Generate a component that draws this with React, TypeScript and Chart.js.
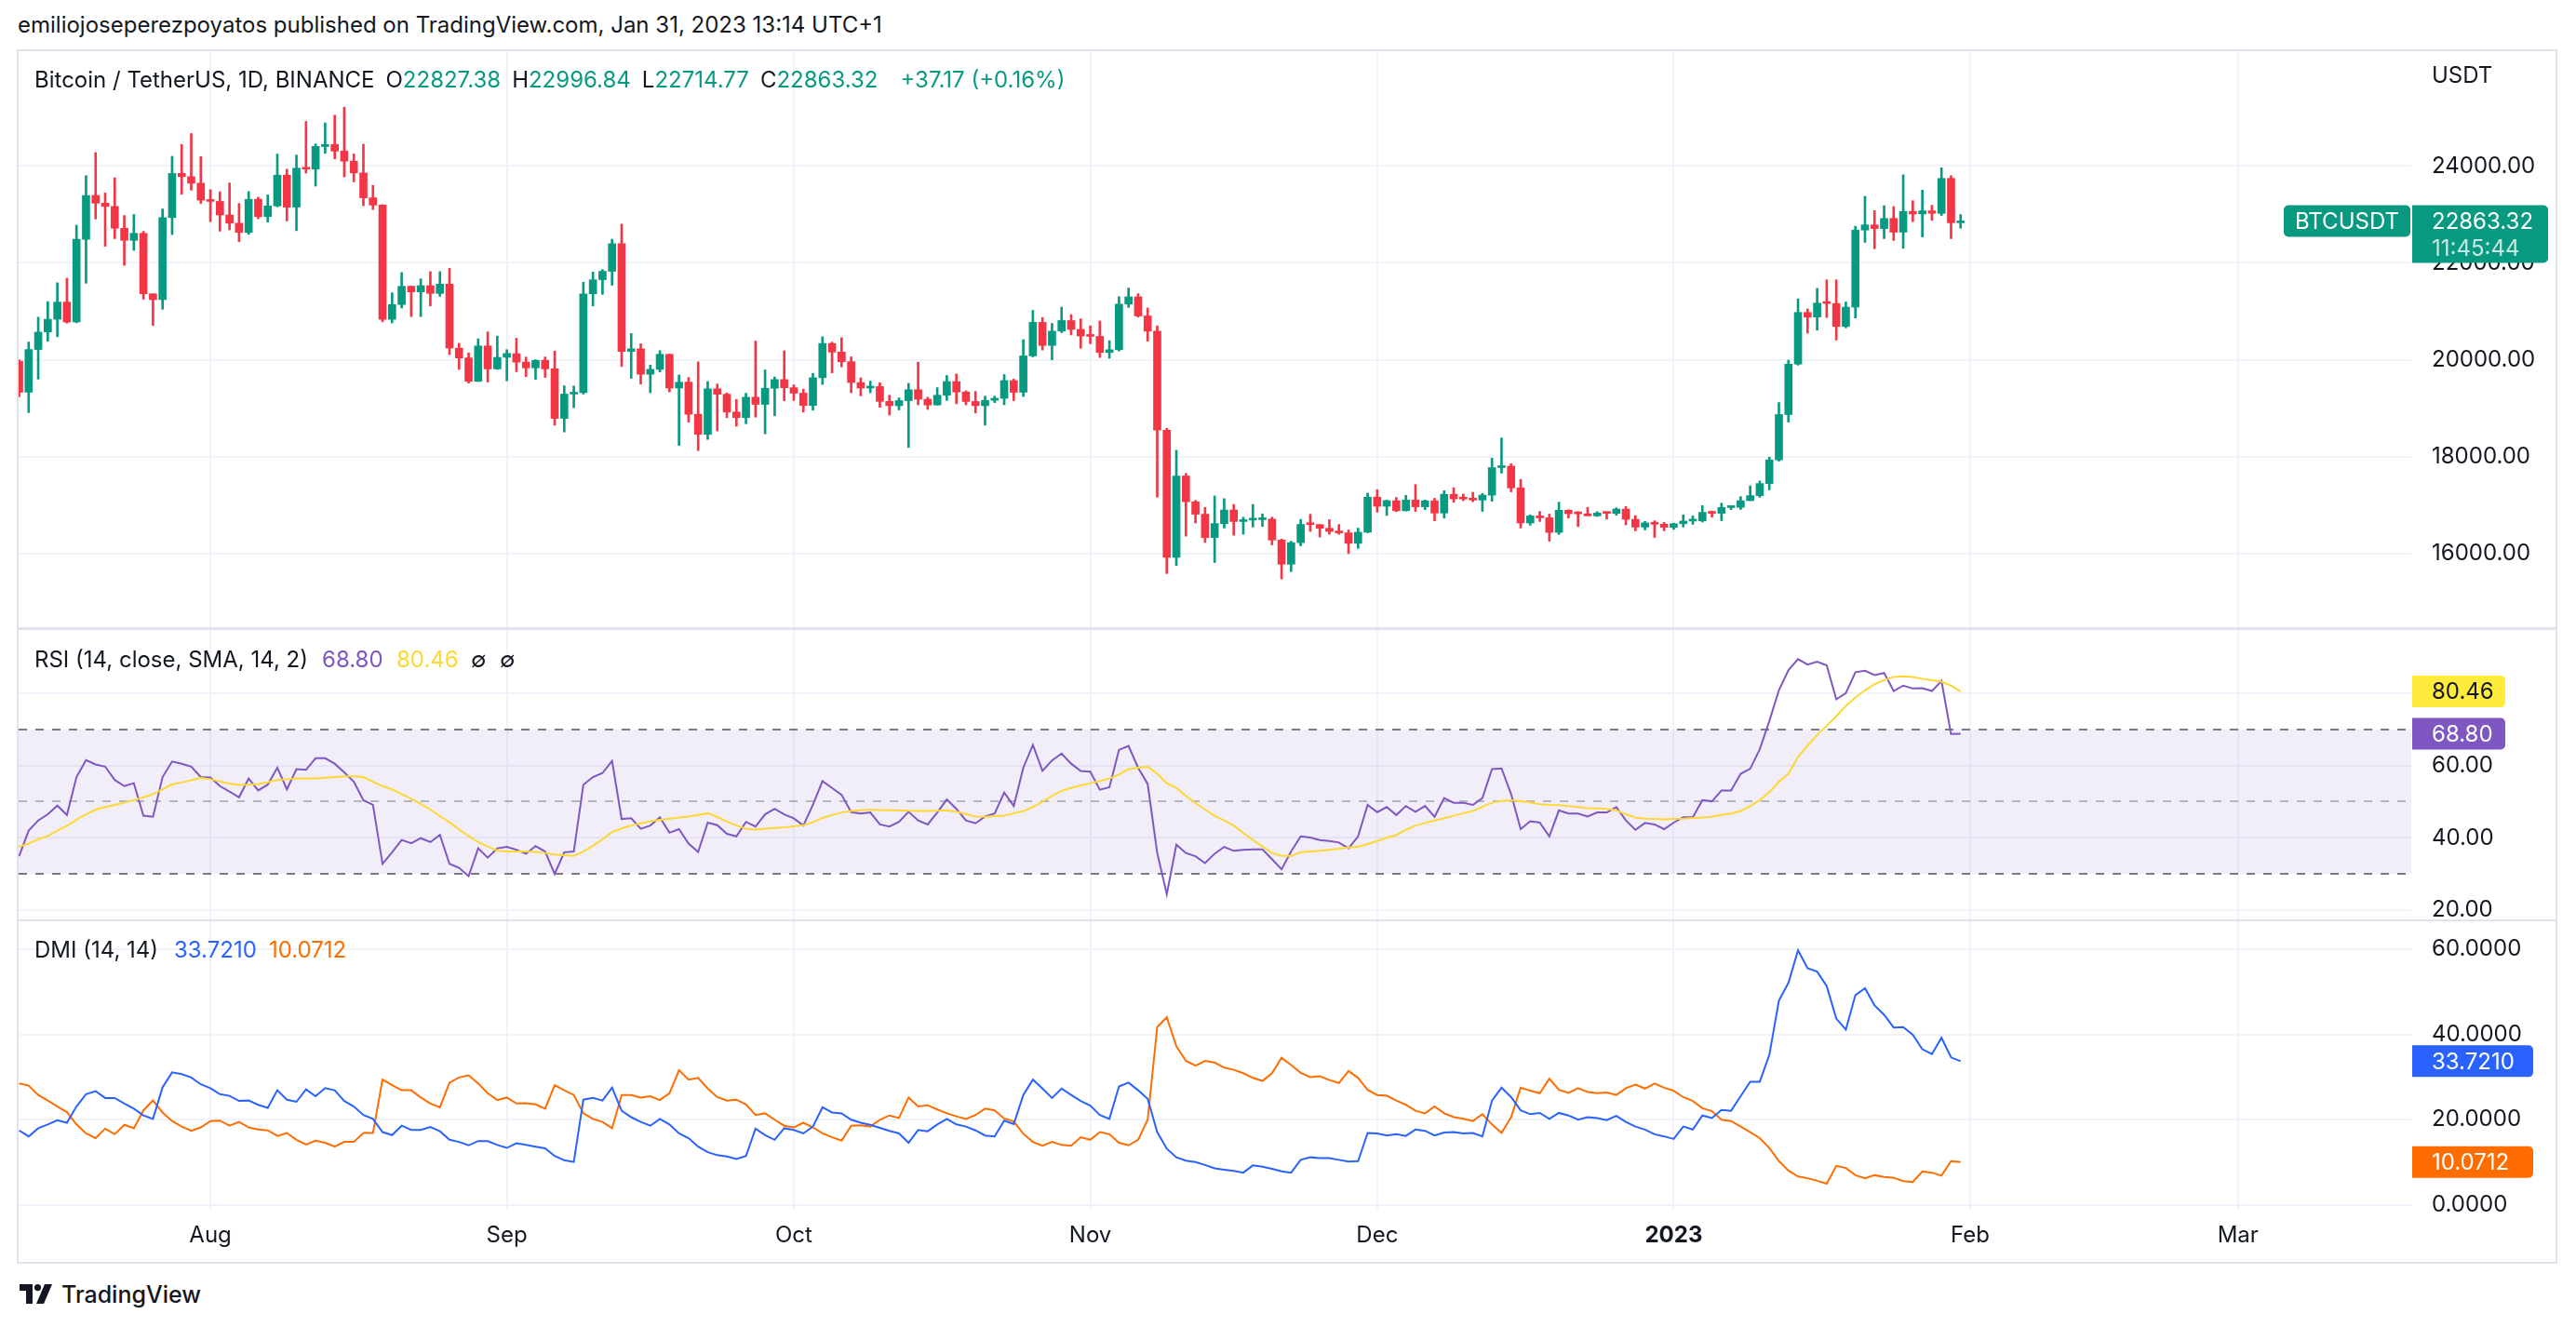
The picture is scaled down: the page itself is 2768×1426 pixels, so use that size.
import React, { useEffect, useRef } from "react";
import { Chart, registerables } from "chart.js";
Chart.register(...registerables);

// ---------------- DATA ----------------
// Daily candles BTC/USDT, index 0 = 2022-07-12 ... index 203 = 2023-01-31
const opens = [
  19970, 19330, 20212, 20573, 20836, 21190, 20781, 22485, 23393, 23233,
  23164, 22714, 22465, 22609, 21361, 21240, 22934, 23846, 23778, 23644,
  23297, 23268, 22988, 22819, 22626, 23312, 22954, 23175, 23810, 23151,
  23954, 23934, 24402, 24443, 24306, 24099, 23856, 23342, 23191, 20834,
  21140, 21517, 21400, 21530, 21369, 21560, 20240, 20038, 19555, 20285,
  19812, 20050, 20127, 19952, 19832, 19988, 19813, 18790, 19292, 19320,
  21362, 21652, 21826, 22395, 20173, 20227, 19701, 19803, 20112, 19417,
  19538, 18875, 18461, 19401, 19289, 18921, 18807, 19227, 19079, 19412,
  19591, 19423, 19311, 19057, 19630, 20336, 20159, 19960, 19530, 19417,
  19447, 19141, 19052, 19156, 19382, 19185, 19068, 19268, 19550, 19334,
  19139, 19052, 19164, 19205, 19570, 19330, 20080, 20772, 20295, 20591,
  20809, 20627, 20490, 20483, 20151, 20207, 21148, 21299, 20905, 20591,
  18546, 15922, 17602, 17069, 16813, 16330, 16617, 16900, 16662, 16692,
  16700, 16712, 16280, 15781, 16226, 16603, 16599, 16522, 16458, 16428,
  16212, 16442, 17165, 16978, 17092, 16885, 17105, 16966, 17089, 16837,
  17224, 17128, 17128, 17105, 17206, 17775, 17804, 17357, 16632, 16776,
  16739, 16439, 16895, 16824, 16822, 16779, 16837, 16830, 16919, 16707,
  16547, 16633, 16607, 16541, 16617, 16672, 16675, 16851, 16832, 16951,
  16955, 17093, 17196, 17446, 17934, 18869, 19910, 20977, 20882, 21175,
  21161, 20687, 21086, 22677, 22783, 22707, 22917, 22633, 23060, 23009,
  23074, 23022, 23743, 22827.38,
];
const highs = [
  20000, 20366, 20880, 21200, 21588, 21684, 22777, 23800, 24276, 23442,
  23756, 22977, 22998, 22650, 21361, 23112, 24199, 24442, 24668, 24194,
  23509, 23466, 23648, 23225, 23472, 23354, 23402, 24245, 23933, 24226,
  24918, 24456, 24888, 25047, 25212, 24247, 24446, 23600, 23202, 21382,
  21800, 21517, 21669, 21819, 21819, 21886, 20340, 20141, 20433, 20575,
  20490, 20208, 20444, 20055, 20000, 20057, 20180, 19464, 19458, 21600,
  21810, 21860, 22488, 22799, 20541, 20330, 19890, 20189, 20117, 19686,
  19634, 19956, 19550, 19500, 19316, 19180, 19310, 20385, 19790, 19645,
  20185, 19484, 19395, 19719, 20475, 20365, 20456, 20060, 19627, 19558,
  19525, 19268, 19214, 19513, 19951, 19227, 19425, 19676, 19706, 19360,
  19346, 19250, 19248, 19695, 19601, 20415, 21020, 20872, 20750, 21085,
  20931, 20845, 20700, 20800, 20393, 21302, 21480, 21365, 21069, 20700,
  18587, 18132, 17656, 17099, 16954, 17190, 17134, 17015, 16751, 17014,
  16820, 16753, 16300, 16254, 16706, 16812, 16601, 16701, 16600, 16487,
  16525, 17249, 17320, 17105, 17159, 17202, 17424, 17107, 17142, 17299,
  17360, 17227, 17266, 17241, 17969, 18387, 17854, 17531, 16800, 16869,
  16815, 17061, 16905, 16868, 16955, 16865, 16860, 16944, 16972, 16784,
  16664, 16677, 16644, 16629, 16799, 16778, 16991, 16879, 17041, 16981,
  17176, 17398, 17499, 17992, 19117, 19992, 21258, 21050, 21474, 21650,
  21650, 21192, 22755, 23372, 23078, 23180, 23162, 23816, 23282, 23500,
  23189, 23960, 23800, 22996.84,
];
const lows = [
  19235, 18910, 19600, 20382, 20475, 20756, 20763, 21580, 22906, 22341,
  22500, 21950, 22257, 21250, 20706, 21043, 22583, 23414, 23500, 23227,
  22850, 22654, 22681, 22436, 22587, 22909, 22839, 23154, 22865, 22664,
  23852, 23583, 24259, 24146, 23773, 23671, 23180, 23100, 20783, 20761,
  21069, 20890, 20890, 21112, 21310, 20107, 19800, 19520, 19550, 19540,
  19800, 19565, 19753, 19652, 19596, 19636, 18650, 18510, 19011, 19291,
  21111, 21350, 21538, 19860, 19617, 19497, 19320, 19748, 19336, 18232,
  18711, 18125, 18356, 18531, 18805, 18629, 18680, 18816, 18471, 18843,
  19155, 19160, 18920, 18960, 19490, 19730, 19853, 19320, 19255, 19320,
  19020, 18860, 18965, 18190, 19071, 18975, 19063, 19160, 19091, 19070,
  18900, 18650, 19115, 19072, 19157, 19242, 20060, 20200, 20000, 20560,
  20512, 20237, 20330, 20048, 20032, 20180, 21081, 20880, 20384, 17166,
  15588, 15754, 16361, 16631, 16229, 15815, 16527, 16378, 16400, 16549,
  16560, 16180, 15476, 15630, 16160, 16458, 16342, 16400, 16400, 16000,
  16107, 16428, 16855, 16787, 16865, 16878, 16868, 16906, 16678, 16733,
  17058, 17092, 17071, 16871, 17080, 17660, 17275, 16527, 16585, 16663,
  16256, 16398, 16735, 16559, 16785, 16766, 16713, 16791, 16592, 16470,
  16488, 16334, 16470, 16499, 16548, 16605, 16652, 16753, 16679, 16908,
  16911, 17093, 17161, 17315, 17909, 18714, 19889, 20551, 20611, 20872,
  20407, 20659, 20862, 22422, 22292, 22500, 22462, 22300, 22850, 22534,
  22878, 22978, 22500, 22714.77,
];
const closes = [
  19329, 20212, 20570, 20836, 21190, 20779, 22485, 23389, 23231, 23164,
  22714, 22465, 22609, 21361, 21240, 22933, 23844, 23778, 23644, 23294,
  23269, 22988, 22819, 22627, 23312, 22954, 23175, 23810, 23149, 23954,
  23934, 24403, 24442, 24306, 24099, 23855, 23342, 23191, 20834, 21140,
  21516, 21400, 21529, 21369, 21560, 20241, 20037, 19555, 20285, 19811,
  20050, 20131, 19951, 19832, 19987, 19812, 18790, 19292, 19320, 21361,
  21650, 21826, 22396, 20173, 20226, 19701, 19803, 20113, 19416, 19537,
  18875, 18461, 19401, 19289, 18920, 18807, 19227, 19080, 19412, 19592,
  19422, 19310, 19056, 19630, 20337, 20158, 19960, 19530, 19417, 19446,
  19141, 19052, 19157, 19382, 19185, 19067, 19268, 19550, 19334, 19139,
  19053, 19163, 19205, 19571, 19329, 20080, 20772, 20295, 20591, 20809,
  20627, 20491, 20483, 20151, 20207, 21148, 21299, 20905, 20591, 18547,
  15922, 17601, 17070, 16812, 16330, 16620, 16900, 16662, 16692, 16700,
  16712, 16280, 15781, 16226, 16603, 16599, 16522, 16458, 16428, 16213,
  16442, 17164, 16977, 17092, 16885, 17105, 16966, 17089, 16837, 17224,
  17128, 17127, 17105, 17207, 17775, 17804, 17356, 16633, 16776, 16739,
  16438, 16895, 16824, 16821, 16779, 16836, 16830, 16919, 16707, 16547,
  16633, 16607, 16542, 16616, 16672, 16675, 16850, 16832, 16951, 16955,
  17091, 17196, 17446, 17934, 18869, 19909, 20977, 20880, 21169, 21161,
  20688, 21086, 22676, 22783, 22707, 22916, 22633, 23060, 23009, 23074,
  23022, 23742, 22827, 22863.32,
];
const rsi = [
  34.9, 42.0, 44.8, 46.5, 48.9, 46.3, 56.8, 61.5, 60.3, 59.7,
  56.0, 54.3, 55.1, 46.1, 45.8, 56.8, 61.1, 60.5, 59.7, 56.8,
  56.7, 54.3, 52.8, 51.2, 56.4, 53.1, 54.7, 59.4, 53.4, 59.0,
  58.8, 62.0, 62.0, 60.5, 58.1, 55.5, 50.4, 49.1, 32.8, 36.0,
  39.4, 38.5, 39.9, 38.8, 40.8, 32.8, 31.7, 29.4, 37.1, 34.5,
  37.1, 37.5, 36.7, 35.6, 37.7, 36.2, 30.0, 36.0, 36.2, 54.7,
  56.8, 57.9, 61.3, 45.2, 45.4, 42.5, 43.4, 45.7, 41.4, 42.4,
  38.4, 36.1, 44.2, 43.5, 41.1, 40.4, 44.4, 43.1, 46.5, 48.0,
  46.5, 45.4, 43.4, 49.1, 55.7, 53.8, 51.9, 47.1, 46.7, 47.0,
  43.7, 43.1, 44.4, 47.2, 44.8, 43.7, 47.0, 50.6, 48.0, 44.8,
  44.0, 45.9, 46.7, 52.5, 48.8, 59.4, 65.7, 58.5, 61.4, 63.3,
  60.5, 58.5, 58.3, 53.3, 54.0, 64.3, 65.4, 59.4, 54.9, 35.8,
  24.4, 38.1, 35.8, 34.9, 33.0, 35.6, 37.5, 36.4, 36.7, 36.8,
  36.8, 34.1, 31.3, 36.2, 40.4, 40.1, 39.4, 39.1, 38.7, 37.1,
  40.4, 49.1, 47.1, 48.5, 46.3, 48.8, 47.2, 48.8, 45.8, 51.0,
  49.7, 49.7, 49.1, 51.0, 59.0, 59.2, 52.1, 42.4, 44.6, 44.2,
  40.4, 47.6, 46.7, 46.7, 45.9, 47.0, 47.0, 48.5, 44.8, 42.2,
  44.1, 43.7, 42.4, 44.2, 45.7, 45.7, 50.4, 50.1, 53.1, 53.1,
  57.7, 59.1, 64.5, 72.3, 80.8, 86.4, 89.4, 87.9, 88.7, 87.7,
  78.3, 80.0, 85.8, 86.2, 85.0, 85.6, 80.6, 82.1, 81.3, 81.4,
  80.6, 83.4, 68.7, 68.8,
];
const rsiMA = [
  37.5, 38.4, 39.6, 40.5, 42.0, 43.3, 45.0, 46.5, 47.8, 48.5,
  49.1, 49.7, 50.4, 51.2, 52.1, 53.4, 54.8, 55.3, 55.9, 56.6,
  56.2, 55.6, 55.0, 54.6, 54.7, 54.9, 55.4, 56.0, 56.2, 56.4,
  56.4, 56.4, 56.6, 56.8, 57.0, 57.0, 56.8, 55.5, 54.3, 53.4,
  52.1, 50.8, 49.4, 47.8, 46.0, 44.3, 42.3, 40.5, 38.8, 37.6,
  36.5, 36.2, 36.2, 36.2, 36.1, 35.8, 35.4, 35.2, 35.0, 36.2,
  37.8, 39.6, 41.6, 42.6, 43.4, 44.0, 44.6, 45.0, 45.3, 45.6,
  45.9, 46.3, 46.8, 45.8, 44.5, 43.4, 42.5, 42.3, 42.5, 42.7,
  42.9, 43.2, 43.5, 44.3, 45.5, 46.3, 47.0, 47.4, 47.6, 47.8,
  47.7, 47.6, 47.6, 47.5, 47.4, 47.4, 47.5, 47.6, 47.2, 46.6,
  45.9, 45.8, 46.0, 46.1, 46.8, 47.4, 48.5, 50.0, 51.6, 53.0,
  53.8, 54.5, 55.1, 55.7, 56.4, 57.5, 59.0, 59.4, 59.7, 57.7,
  55.1, 53.8, 51.6, 49.6, 47.8, 46.1, 44.8, 43.4, 41.3, 39.4,
  37.6, 35.8, 35.0, 35.0, 36.0, 36.2, 36.4, 36.7, 37.0, 37.3,
  37.5, 38.3, 39.1, 40.0, 40.8, 42.2, 43.4, 44.1, 44.8, 45.4,
  46.1, 46.8, 47.4, 48.6, 49.7, 50.2, 50.4, 50.1, 49.8, 49.3,
  49.1, 49.0, 48.8, 48.5, 48.2, 48.1, 48.0, 47.6, 46.5, 45.6,
  45.3, 45.2, 45.1, 45.2, 45.3, 45.5, 45.6, 45.9, 46.3, 46.7,
  47.4, 48.8, 50.4, 52.6, 55.5, 57.7, 62.4, 65.5, 68.5, 71.0,
  73.6, 76.5, 78.8, 80.8, 82.5, 83.6, 84.5, 84.7, 84.5, 84.0,
  83.6, 83.2, 82.1, 80.46,
];
const diPlus = [
  17.5, 16.1, 18.0, 18.9, 19.9, 19.3, 23.1, 26.0, 26.7, 25.1,
  25.1, 23.8, 22.6, 21.0, 20.2, 27.6, 31.1, 30.7, 29.9, 28.3,
  27.4, 26.0, 25.6, 24.4, 24.5, 23.5, 22.8, 26.9, 24.7, 24.2,
  27.1, 25.5, 27.4, 26.9, 24.4, 23.1, 21.1, 20.2, 17.1, 16.4,
  18.6, 17.6, 17.6, 18.3, 17.3, 15.3, 14.8, 14.0, 15.0, 15.0,
  14.1, 13.4, 14.5, 14.1, 13.7, 13.3, 11.5, 10.5, 10.1, 24.7,
  25.1, 24.5, 27.5, 22.1, 20.6, 19.5, 18.6, 20.2, 18.9, 16.8,
  15.7, 13.7, 12.4, 11.7, 11.4, 10.8, 11.5, 17.9, 16.4, 15.3,
  18.0, 17.6, 16.8, 18.4, 22.9, 21.7, 21.5, 20.0, 19.3, 18.8,
  18.1, 17.4, 16.8, 14.6, 17.6, 17.3, 18.9, 20.2, 18.9, 18.4,
  17.5, 16.3, 16.1, 19.8, 19.0, 25.8, 29.4, 27.3, 25.1, 27.3,
  25.8, 24.4, 23.3, 21.1, 20.2, 27.8, 28.7, 26.9, 24.9, 17.1,
  13.2, 11.2, 10.4, 10.1, 9.4, 8.6, 8.3, 8.0, 7.6, 9.3,
  9.0, 8.5, 7.9, 7.6, 10.6, 11.2, 11.0, 11.0, 10.6, 10.2,
  10.3, 16.9, 16.8, 16.3, 16.6, 16.2, 17.7, 17.4, 16.3, 17.0,
  17.1, 16.8, 16.9, 16.1, 24.5, 27.5, 25.3, 22.2, 21.3, 21.6,
  20.2, 21.6, 21.0, 20.0, 20.6, 20.4, 19.9, 20.9, 19.5, 18.4,
  17.7, 16.6, 16.1, 15.5, 18.4, 17.7, 21.0, 20.4, 22.3, 22.1,
  25.5, 28.9, 28.9, 35.2, 47.9, 52.1, 59.7, 55.5, 54.7, 51.3,
  43.7, 41.1, 49.2, 50.8, 46.8, 44.6, 41.6, 41.7, 39.9, 36.5,
  35.4, 39.2, 34.6, 33.721,
];
const diMinus = [
  28.5, 28.0, 25.8, 24.5, 23.1, 21.8, 18.9, 16.8, 15.7, 17.9,
  16.6, 18.8, 18.0, 22.2, 24.5, 21.7, 19.7, 18.4, 17.4, 18.2,
  19.7, 19.8, 18.6, 19.5, 18.2, 17.7, 17.5, 16.2, 16.9, 15.3,
  14.2, 15.1, 14.6, 13.7, 14.8, 14.8, 16.9, 16.9, 29.4, 28.1,
  26.9, 26.9, 25.2, 23.8, 22.9, 28.7, 29.9, 30.4, 28.5, 26.2,
  24.6, 25.2, 23.8, 23.9, 23.6, 22.6, 28.1, 26.9, 25.8, 21.5,
  20.2, 19.5, 18.0, 25.8, 25.8, 25.2, 25.5, 24.6, 26.2, 31.6,
  29.4, 29.8, 27.3, 25.3, 24.5, 24.7, 23.6, 21.1, 21.5, 20.0,
  18.6, 18.2, 19.3, 18.2, 16.8, 15.9, 15.1, 18.6, 18.7, 18.4,
  20.0, 21.0, 20.4, 25.2, 23.1, 23.4, 22.4, 21.5, 20.8, 20.2,
  21.1, 22.6, 22.2, 20.3, 19.6, 16.7, 14.8, 13.9, 14.8, 14.1,
  13.9, 15.9, 15.3, 17.1, 16.6, 14.6, 14.0, 15.3, 20.0, 41.7,
  44.0, 37.2, 33.8, 32.7, 33.8, 33.4, 32.2, 31.7, 30.9, 29.8,
  29.1, 30.9, 34.5, 32.8, 31.0, 30.0, 30.2, 29.3, 28.6, 31.4,
  29.8, 27.0, 25.8, 25.6, 24.5, 23.5, 22.1, 21.5, 23.1, 21.5,
  20.6, 20.2, 19.7, 21.3, 18.9, 16.9, 20.6, 27.5, 26.8, 26.2,
  29.6, 27.0, 26.3, 27.4, 26.5, 26.2, 26.4, 25.8, 27.4, 28.2,
  27.3, 28.5, 27.5, 26.8, 25.3, 24.4, 22.7, 22.0, 20.0, 19.7,
  18.4, 17.1, 15.7, 13.4, 10.3, 8.1, 6.7, 6.3, 5.7, 5.0,
  9.2, 8.7, 7.0, 6.3, 7.0, 6.6, 6.4, 5.6, 5.4, 7.9,
  7.6, 6.9, 10.3, 10.0712,
];
const monthTickIdx = [20, 51, 81, 112, 142, 173, 204, 232];
const monthTickLabels = ["Aug", "Sep", "Oct", "Nov", "Dec", "2023", "Feb", "Mar"];
const priceTicks = [16000, 18000, 20000, 22000, 24000];
const rsiTicks = [20, 40, 60, 80];
const dmiTicks = [0, 20, 40, 60];
const rsiBands = { upper: 70, middle: 50, lower: 30 };
const symbolName = "BTCUSDT";
const countdown = "11:45:44";
const changeText = "+37.17 (+0.16%)";

// ---------------- STYLE ----------------
const FONT = "Inter, 'Noto Sans', 'DejaVu Sans', sans-serif";
const TEXT = "#131722";
const GRID = "#f0f3fa";
const FRAME = "#e0e3eb";
const UP = "#089981";
const DOWN = "#f23645";
const PURPLE = "#7e57c2";
const YELLOW = "#fdd835";
const BLUE = "#2962ff";
const ORANGE = "#ff6d00";

const CANVAS_LEFT = 20;
const CANVAS_W = 2726;
const AXIS_W = 155;
const TIME_AXIS_H = 56;
const X_MIN = -0.05;
const X_MAX = 250.12;

Chart.defaults.font.family = FONT;

const idx = closes.map((_, i) => i);
const candleColors = closes.map((c, i) => (c >= opens[i] ? UP : DOWN));

function makeXScale(showLabels: boolean) {
  return {
    type: "linear",
    min: X_MIN,
    max: X_MAX,
    offset: false,
    afterBuildTicks: (s: any) => {
      s.ticks = monthTickIdx.map((v) => ({ value: v }));
    },
    afterFit: (s: any) => {
      s.height = showLabels ? TIME_AXIS_H : 0;
      s.paddingLeft = 0;
      s.paddingRight = 0;
    },
    grid: { color: GRID, lineWidth: 2, drawTicks: false, offset: false },
    border: { display: false },
    ticks: {
      display: showLabels,
      autoSkip: false,
      maxRotation: 0,
      minRotation: 0,
      padding: 13,
      color: TEXT,
      callback: (v: any) => {
        const k = monthTickIdx.indexOf(Number(v));
        return k >= 0 ? monthTickLabels[k] : "";
      },
      font: (ctx: any) => ({
        family: FONT,
        size: 24,
        weight: monthTickLabels[ctx.index] === "2023" ? "bold" : "normal",
      }),
    },
  };
}

function makeYScale(min: number, max: number, ticks: number[], decimals: number) {
  return {
    type: "linear",
    position: "right",
    min,
    max,
    afterBuildTicks: (s: any) => {
      s.ticks = ticks.map((v) => ({ value: v }));
    },
    afterFit: (s: any) => {
      s.width = AXIS_W;
      s.paddingTop = 0;
      s.paddingBottom = 0;
    },
    grid: { color: GRID, lineWidth: 2, drawTicks: false },
    border: { display: false },
    ticks: {
      autoSkip: false,
      padding: 22,
      color: TEXT,
      font: { family: FONT, size: 24 },
      callback: (v: any) => Number(v).toFixed(decimals),
    },
  };
}

type Badge = {
  value: number;
  bg: string;
  fg: string;
  text: string;
  w: number;
  h?: number;
  x?: number;
  center?: boolean;
  radius?: any;
  text2?: string;
  fg2?: string;
};

function badgePlugin(items: Badge[]) {
  return {
    id: "badges",
    afterDraw(chart: any) {
      const { ctx, chartArea, scales } = chart;
      items.forEach((b) => {
        const cy = scales.y.getPixelForValue(b.value);
        const x0 = chartArea.right + (b.x ?? 1);
        const h = b.h ?? 34;
        const top = cy - 17;
        ctx.save();
        ctx.fillStyle = b.bg;
        ctx.beginPath();
        (ctx as any).roundRect(x0, top, b.w, h, b.radius ?? [0, 5, 5, 0]);
        ctx.fill();
        ctx.font = `24px ${FONT}`;
        ctx.textBaseline = "middle";
        ctx.fillStyle = b.fg;
        if (b.center) {
          ctx.textAlign = "center";
          ctx.fillText(b.text, x0 + b.w / 2, cy + 1);
        } else {
          ctx.textAlign = "left";
          ctx.fillText(b.text, chartArea.right + 22, cy + 1);
        }
        if (b.text2) {
          ctx.fillStyle = b.fg2 || b.fg;
          ctx.fillText(b.text2, chartArea.right + 22, cy + 30);
        }
        ctx.restore();
      });
    },
  };
}

const bandPlugin = {
  id: "rsiBand",
  beforeDatasetsDraw(chart: any) {
    const { ctx, chartArea, scales } = chart;
    const y = scales.y;
    const yu = y.getPixelForValue(rsiBands.upper);
    const ym = y.getPixelForValue(rsiBands.middle);
    const yl = y.getPixelForValue(rsiBands.lower);
    ctx.save();
    ctx.fillStyle = "rgba(126, 87, 194, 0.1)";
    ctx.fillRect(chartArea.left, yu, chartArea.right - chartArea.left, yl - yu);
    ctx.lineWidth = 2;
    ctx.setLineDash([9, 9]);
    const line = (yy: number, color: string) => {
      ctx.strokeStyle = color;
      ctx.beginPath();
      ctx.moveTo(chartArea.left, Math.round(yy));
      ctx.lineTo(chartArea.right, Math.round(yy));
      ctx.stroke();
    };
    line(yu, "#787b86");
    line(ym, "rgba(120, 123, 134, 0.5)");
    line(yl, "#787b86");
    ctx.restore();
  },
};

const baseOptions = {
  responsive: false,
  maintainAspectRatio: false,
  devicePixelRatio: 1,
  animation: false,
  events: [],
  layout: { padding: 0 },
  plugins: { legend: { display: false }, tooltip: { enabled: false } },
};

function Label(props: { x: number; cy: number; size?: number; color?: string; weight?: number | string; children: any }) {
  const size = props.size ?? 24;
  return (
    <div
      style={{
        position: "absolute",
        left: props.x,
        top: props.cy - size * 0.7,
        height: size * 1.4,
        lineHeight: `${size * 1.4}px`,
        fontSize: size,
        fontFamily: FONT,
        color: props.color ?? TEXT,
        fontWeight: props.weight as any,
        whiteSpace: "pre",
      }}
    >
      {props.children}
    </div>
  );
}

export default function App() {
  const mainRef = useRef<HTMLCanvasElement>(null);
  const rsiRef = useRef<HTMLCanvasElement>(null);
  const dmiRef = useRef<HTMLCanvasElement>(null);

  useEffect(() => {
    const last = closes.length - 1;
    const main = new Chart(mainRef.current as any, {
      type: "bar",
      data: {
        datasets: [
          {
            data: idx.map((i) => ({ x: i, y: [opens[i], closes[i]] })),
            backgroundColor: candleColors,
            barThickness: 8,
            maxBarThickness: 8,
            minBarLength: 2,
            grouped: false,
          } as any,
          {
            data: idx.map((i) => ({ x: i, y: [lows[i], highs[i]] })),
            backgroundColor: candleColors,
            barThickness: 2,
            maxBarThickness: 2,
            grouped: false,
          } as any,
        ],
      },
      options: {
        ...baseOptions,
        scales: {
          x: makeXScale(false),
          y: makeYScale(14481, 26368, priceTicks, 2),
        },
      } as any,
      plugins: [
        badgePlugin([
          { value: closes[last], bg: UP, fg: "#ffffff", text: symbolName, w: 136, x: -137, center: true, radius: 5 },
          {
            value: closes[last],
            bg: UP,
            fg: "#ffffff",
            text: closes[last].toFixed(2),
            w: 146,
            h: 62,
            text2: countdown,
            fg2: "rgba(255,255,255,0.78)",
          },
        ]),
      ],
    });

    const rsiChart = new Chart(rsiRef.current as any, {
      type: "line",
      data: {
        datasets: [
          {
            data: idx.map((i) => ({ x: i, y: rsiMA[i] })),
            borderColor: YELLOW,
            borderWidth: 2,
            pointRadius: 0,
            tension: 0,
          },
          {
            data: idx.map((i) => ({ x: i, y: rsi[i] })),
            borderColor: PURPLE,
            borderWidth: 2,
            pointRadius: 0,
            tension: 0,
          },
        ],
      },
      options: {
        ...baseOptions,
        scales: {
          x: makeXScale(false),
          y: makeYScale(17.43, 97.48, rsiTicks, 2),
        },
      } as any,
      plugins: [
        bandPlugin,
        badgePlugin([
          { value: rsiMA[last], bg: "#ffeb3b", fg: TEXT, text: rsiMA[last].toFixed(2), w: 100 },
          { value: rsi[last], bg: PURPLE, fg: "#ffffff", text: rsi[last].toFixed(2), w: 100 },
        ]),
      ],
    });

    const dmiChart = new Chart(dmiRef.current as any, {
      type: "line",
      data: {
        datasets: [
          {
            data: idx.map((i) => ({ x: i, y: diPlus[i] })),
            borderColor: BLUE,
            borderWidth: 2,
            pointRadius: 0,
            tension: 0,
          },
          {
            data: idx.map((i) => ({ x: i, y: diMinus[i] })),
            borderColor: ORANGE,
            borderWidth: 2,
            pointRadius: 0,
            tension: 0,
          },
        ],
      },
      options: {
        ...baseOptions,
        scales: {
          x: makeXScale(true),
          y: makeYScale(-1.09, 66.5, dmiTicks, 4),
        },
      } as any,
      plugins: [
        badgePlugin([
          { value: diPlus[last], bg: BLUE, fg: "#ffffff", text: diPlus[last].toFixed(4), w: 130 },
          { value: diMinus[last], bg: ORANGE, fg: "#ffffff", text: diMinus[last].toFixed(4), w: 130 },
        ]),
      ],
    });

    return () => {
      main.destroy();
      rsiChart.destroy();
      dmiChart.destroy();
    };
  }, []);

  const last = closes.length - 1;
  const hline = (top: number, h = 2, left = 18, w = 2730) => (
    <div style={{ position: "absolute", left, top, width: w, height: h, background: FRAME }} />
  );

  return (
    <div
      style={{
        position: "absolute",
        left: 0,
        top: 0,
        width: 2768,
        height: 1426,
        background: "#ffffff",
        overflow: "hidden",
        fontFamily: FONT,
      }}
    >
      <Label x={19} cy={27} size={24}>
        emiliojoseperezpoyatos published on TradingView.com, Jan 31, 2023 13:14 UTC+1
      </Label>

      {/* frame */}
      {hline(53)}
      {hline(1356)}
      <div style={{ position: "absolute", left: 18, top: 53, width: 2, height: 1305, background: FRAME }} />
      <div style={{ position: "absolute", left: 2746, top: 53, width: 2, height: 1305, background: FRAME }} />
      {hline(674, 3, 20, 2726)}
      {hline(988, 2, 20, 2726)}

      <canvas
        ref={mainRef}
        width={CANVAS_W}
        height={619}
        style={{ position: "absolute", left: CANVAS_LEFT, top: 55, width: CANVAS_W, height: 619 }}
      />
      <canvas
        ref={rsiRef}
        width={CANVAS_W}
        height={311}
        style={{ position: "absolute", left: CANVAS_LEFT, top: 677, width: CANVAS_W, height: 311 }}
      />
      <canvas
        ref={dmiRef}
        width={CANVAS_W}
        height={366}
        style={{ position: "absolute", left: CANVAS_LEFT, top: 990, width: CANVAS_W, height: 366 }}
      />

      {/* main legend */}
      <Label x={37} cy={86} size={24}>
        <span>Bitcoin / TetherUS, 1D, BINANCE</span>
        <span style={{ marginLeft: 12 }}>O</span>
        <span style={{ color: UP }}>{opens[last].toFixed(2)}</span>
        <span style={{ marginLeft: 12 }}>H</span>
        <span style={{ color: UP }}>{highs[last].toFixed(2)}</span>
        <span style={{ marginLeft: 12 }}>L</span>
        <span style={{ color: UP }}>{lows[last].toFixed(2)}</span>
        <span style={{ marginLeft: 12 }}>C</span>
        <span style={{ color: UP }}>{closes[last].toFixed(2)}</span>
        <span style={{ marginLeft: 24, color: UP }}>{changeText}</span>
      </Label>
      <Label x={2613} cy={81} size={24}>USDT</Label>

      {/* RSI legend */}
      <Label x={37} cy={709}>RSI (14, close, SMA, 14, 2)</Label>
      <Label x={346} cy={709} color={PURPLE}>{rsi[last].toFixed(2)}</Label>
      <Label x={426} cy={709} color={YELLOW}>{rsiMA[last].toFixed(2)}</Label>
      <Label x={506} cy={709}>∅</Label>
      <Label x={537} cy={709}>∅</Label>

      {/* DMI legend */}
      <Label x={37} cy={1021}>DMI (14, 14)</Label>
      <Label x={187} cy={1021} color={BLUE}>{diPlus[last].toFixed(4)}</Label>
      <Label x={289} cy={1021} color={ORANGE}>{diMinus[last].toFixed(4)}</Label>

      {/* footer logo */}
      <svg
        style={{ position: "absolute", left: 21, top: 1380 }}
        width={36}
        height={22}
        viewBox="0 0 36 22"
      >
        <path d="M0 0 H14 V21 H7 V7 H0 Z" fill={TEXT} />
        <circle cx={19.5} cy={3.6} r={3.6} fill={TEXT} />
        <path d="M27 0 H35 L26 21 H18 Z" fill={TEXT} />
      </svg>
      <Label x={66} cy={1391} size={25} weight={500}>TradingView</Label>
    </div>
  );
}
